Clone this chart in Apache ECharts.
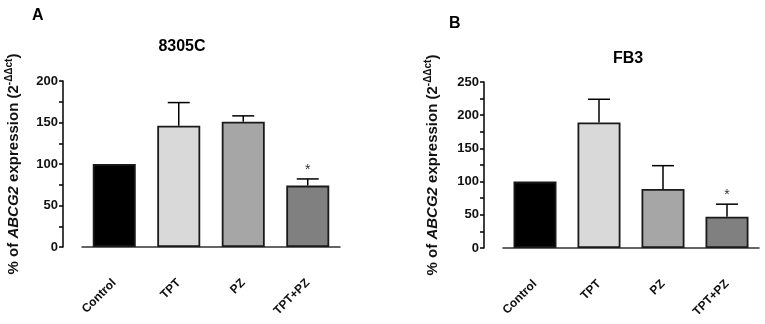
<!DOCTYPE html>
<html>
<head>
<meta charset="utf-8">
<script src="https://cdn.jsdelivr.net/npm/echarts@6/dist/echarts.min.js"></script>
<style>
  html, body { margin: 0; padding: 0; background: #fff; }
  #chart { width: 765px; height: 324px; }
</style>
</head>
<body>
<div id="chart"></div>
<script>
const categories = ["Control", "TPT", "PZ", "TPT+PZ"];
const barColors = ["#000000", "#d9d9d9", "#a6a6a6", "#808080"];

// panel A: 8305C
const meansA = [100, 146, 151, 74];
const errTopA = [100, 174, 158, 82];
const sigA = ["", "", "", "*"];

// panel B: FB3
const meansB = [100, 189, 89, 47];
const errTopB = [100, 224, 124, 66];
const sigB = ["", "", "", "*"];

const font = "Liberation Sans, Arial, sans-serif";
const yName = "% of {i|ABCG2} expression (2{sup|-ΔΔct})";

function yAxis(gridIndex, max, gap) {
  return {
    type: "value",
    gridIndex,
    min: 0,
    max,
    interval: 50,
    offset: 19,
    name: yName,
    nameLocation: "middle",
    nameRotate: 90,
    nameGap: gap,
    nameTextStyle: {
      fontFamily: font, fontSize: 15, fontWeight: "bold", color: "#111",
      rich: {
        i: { fontFamily: font, fontSize: 15, fontWeight: "bold", fontStyle: "italic", color: "#111" },
        sup: { fontFamily: font, fontSize: 10, fontWeight: "bold", color: "#111", verticalAlign: "top", lineHeight: 20 },
      },
    },
    axisLine: { show: true, lineStyle: { color: "#000", width: 1.5 } },
    axisTick: { show: true, length: 4, lineStyle: { color: "#000", width: 1.5 } },
    minorTick: { show: true, splitNumber: 2, length: 4, lineStyle: { color: "#000", width: 1.5 } },
    splitLine: { show: false },
    axisLabel: { fontFamily: font, fontSize: 13, fontWeight: "bold", color: "#111", margin: 5 },
  };
}

function xAxis(gridIndex) {
  return {
    type: "category",
    gridIndex,
    data: categories,
    offset: 18,
    axisLine: { lineStyle: { color: "#333", width: 1.5 } },
    axisTick: { alignWithLabel: true, length: 4, lineStyle: { color: "#333", width: 1.5 } },
    axisLabel: { rotate: 45, fontFamily: font, fontSize: 12, fontWeight: "bold", color: "#111", margin: 16 },
  };
}

function barSeries(idx, means) {
  return {
    type: "bar",
    xAxisIndex: idx,
    yAxisIndex: idx,
    barWidth: 43,
    z: 3,
    data: means.map((v, i) => ({
      value: v,
      itemStyle: { color: barColors[i], borderColor: "#1a1a1a", borderWidth: 1.8 },
    })),
  };
}

function errSeries(idx, means, tops, sig) {
  return {
    type: "custom",
    xAxisIndex: idx,
    yAxisIndex: idx,
    z: 2,
    data: means.map((v, i) => [i, v, tops[i]]),
    renderItem(params, api) {
      const p0 = api.coord([api.value(0), api.value(1)]);
      const p1 = api.coord([api.value(0), api.value(2)]);
      const half = 11;
      const children = [];
      if (api.value(2) > api.value(1)) {
        children.push({ type: "line", shape: { x1: p0[0], y1: p0[1], x2: p1[0], y2: p1[1] }, style: { stroke: "#000", lineWidth: 1.5 } });
        children.push({ type: "line", shape: { x1: p1[0] - half, y1: p1[1], x2: p1[0] + half, y2: p1[1] }, style: { stroke: "#000", lineWidth: 1.5 } });
      }
      const s = sig[params.dataIndex];
      if (s) {
        children.push({ type: "text", style: { text: s, x: p1[0], y: p1[1] - 2, align: "center", verticalAlign: "bottom", fontFamily: font, fontSize: 14, fill: "#333" } });
      }
      return { type: "group", children };
    },
  };
}

const chart = echarts.init(document.getElementById("chart"), null, { renderer: "canvas" });
const option = {
  animation: false,
  backgroundColor: "#fff",
  title: [
    { text: "A", left: 27, top: 3, textStyle: { fontFamily: font, fontSize: 16, fontWeight: "bold", color: "#000" } },
    { text: "8305C", left: 177, top: 34, textAlign: "center", textStyle: { fontFamily: font, fontSize: 16, fontWeight: "bold", color: "#000" } },
    { text: "B", left: 444, top: 11, textStyle: { fontFamily: font, fontSize: 16, fontWeight: "bold", color: "#000" } },
    { text: "FB3", left: 623, top: 46, textAlign: "center", textStyle: { fontFamily: font, fontSize: 16, fontWeight: "bold", color: "#000" } },
  ],
  grid: [
    { left: 82, top: 81, width: 258, height: 166 },
    { left: 503, top: 82, width: 256, height: 166 },
  ],
  xAxis: [xAxis(0), xAxis(1)],
  yAxis: [yAxis(0, 200, 39), yAxis(1, 250, 41)],
  series: [
    barSeries(0, meansA),
    errSeries(0, meansA, errTopA, sigA),
    barSeries(1, meansB),
    errSeries(1, meansB, errTopB, sigB),
  ],
};
chart.setOption(option);
</script>
</body>
</html>
